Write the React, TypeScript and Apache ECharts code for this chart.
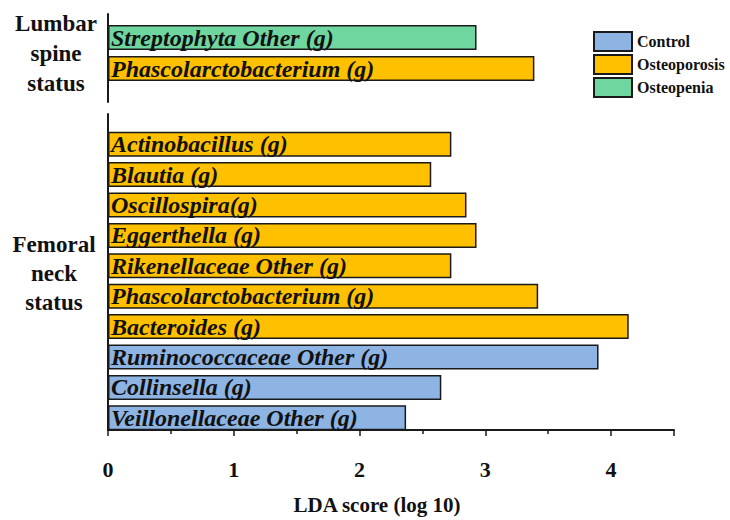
import React, { useEffect, useRef } from "react";
import * as echarts from "echarts";

const groups = ["Control", "Osteoporosis", "Osteopenia"];
const groupColors = ["#8DB4E2", "#FFC000", "#70D6A0"];

const lumbarCategories = ["Streptophyta Other (g)", "Phascolarctobacterium (g)"];
const lumbarGroups = ["Osteopenia", "Osteoporosis"];
const lumbarScores = [2.93, 3.39];

const femoralCategories = [
  "Actinobacillus (g)",
  "Blautia (g)",
  "Oscillospira(g)",
  "Eggerthella (g)",
  "Rikenellaceae Other (g)",
  "Phascolarctobacterium (g)",
  "Bacteroides (g)",
  "Ruminococcaceae Other (g)",
  "Collinsella (g)",
  "Veillonellaceae Other (g)",
];
const femoralGroups = [
  "Osteoporosis",
  "Osteoporosis",
  "Osteoporosis",
  "Osteoporosis",
  "Osteoporosis",
  "Osteoporosis",
  "Osteoporosis",
  "Control",
  "Control",
  "Control",
];
const femoralScores = [2.73, 2.57, 2.85, 2.93, 2.73, 3.42, 4.14, 3.9, 2.65, 2.37];

const xTicks = [0, 1, 2, 3, 4];
const xMax = 4.5;
const xTitle = "LDA score (log 10)";
const lumbarTitle = "Lumbar\nspine\nstatus";
const femoralTitle = "Femoral\nneck\nstatus";

const SERIF = "Liberation Serif, Times New Roman, serif";

export default function App() {
  const ref = useRef<HTMLDivElement>(null);
  useEffect(() => {
    if (!ref.current) return;
    const chart = echarts.init(ref.current, undefined, { renderer: "svg" });

    const hiddenX = (gridIndex: number) => ({
      type: "value",
      gridIndex,
      min: 0,
      max: xMax,
      show: false,
    });

    const makeSeries = (
      cats: string[],
      grps: string[],
      scores: number[],
      axisIndex: number,
      stackName: string
    ) =>
      groups
        .filter((g) => grps.includes(g))
        .map((g) => ({
          type: "bar",
          name: g,
          xAxisIndex: axisIndex,
          yAxisIndex: axisIndex,
          stack: stackName,
          barWidth: 25,
          itemStyle: {
            color: groupColors[groups.indexOf(g)],
            borderColor: "#1a1a1a",
            borderWidth: 1.5,
          },
          label: {
            show: true,
            position: "insideLeft",
            distance: 3,
            formatter: "{b}",
            color: "#111",
            fontFamily: SERIF,
            fontWeight: "bold",
            fontStyle: "italic",
            fontSize: 24,
          },
          data: cats.map((_, i) => (grps[i] === g ? scores[i] : "-")),
        }));

    const option: any = {
      animation: false,
      grid: [
        { left: 108, top: 14, width: 566, height: 88 },
        { left: 108, top: 22, width: 566, height: 62 },
        { left: 108, top: 114, width: 566, height: 329 },
        { left: 108, top: 129, width: 566, height: 304 },
      ],
      legend: {
        orient: "vertical",
        left: 593,
        top: 31,
        padding: 0,
        itemWidth: 38,
        itemHeight: 19,
        itemGap: 2,
        icon: "rect",
        data: groups,
        textStyle: {
          fontFamily: SERIF,
          fontWeight: "bold",
          fontSize: 16,
          color: "#111",
        },
      },
      xAxis: [
        hiddenX(0),
        hiddenX(1),
        {
          type: "value",
          gridIndex: 2,
          min: 0,
          max: xMax,
          interval: 1,
          name: xTitle,
          nameLocation: "middle",
          nameGap: 64,
          nameTextStyle: {
            fontFamily: SERIF,
            fontWeight: "bold",
            fontSize: 21,
            color: "#111",
            padding: [0, 28, 0, 0],
          },
          axisLine: { show: true, lineStyle: { color: "#1a1a1a", width: 2 } },
          axisTick: { show: true, length: 6, lineStyle: { color: "#1a1a1a", width: 1.5 } },
          minorTick: { show: true, splitNumber: 2, length: 4, lineStyle: { color: "#1a1a1a", width: 1.5 } },
          splitLine: { show: false },
          axisLabel: {
            margin: 28,
            fontFamily: SERIF,
            fontWeight: "bold",
            fontSize: 22,
            color: "#111",
            formatter: (v: number) => (xTicks.includes(v) ? String(v) : ""),
          },
        },
        hiddenX(3),
      ],
      yAxis: [
        {
          type: "category",
          gridIndex: 0,
          data: [],
          axisLine: { show: true, lineStyle: { color: "#1a1a1a", width: 2 } },
          axisTick: { show: false },
          axisLabel: { show: false },
        },
        {
          type: "category",
          gridIndex: 1,
          inverse: true,
          data: lumbarCategories,
          axisLine: { show: false },
          axisTick: { show: false },
          axisLabel: { show: false },
        },
        {
          type: "category",
          gridIndex: 2,
          data: [],
          axisLine: { show: true, lineStyle: { color: "#1a1a1a", width: 2 } },
          axisTick: { show: false },
          axisLabel: { show: false },
        },
        {
          type: "category",
          gridIndex: 3,
          inverse: true,
          data: femoralCategories,
          axisLine: { show: false },
          axisTick: { show: false },
          axisLabel: { show: false },
        },
      ],
      graphic: [
        {
          type: "text",
          x: 56,
          y: 8,
          style: {
            text: lumbarTitle,
            fontFamily: SERIF,
            fontWeight: "bold",
            fontSize: 23,
            lineHeight: 30,
            fill: "#111",
            align: "center",
            verticalAlign: "top",
          },
        },
        {
          type: "text",
          x: 54,
          y: 230,
          style: {
            text: femoralTitle,
            fontFamily: SERIF,
            fontWeight: "bold",
            fontSize: 23,
            lineHeight: 29,
            fill: "#111",
            align: "center",
            verticalAlign: "top",
          },
        },
      ],
      series: [
        ...makeSeries(lumbarCategories, lumbarGroups, lumbarScores, 1, "lumbar"),
        ...makeSeries(femoralCategories, femoralGroups, femoralScores, 3, "femoral"),
      ],
    };

    chart.setOption(option);
    return () => chart.dispose();
  }, []);

  return (
    <div
      ref={ref}
      style={{ position: "fixed", left: 0, top: 0, width: 730, height: 520, background: "#fff" }}
    />
  );
}
